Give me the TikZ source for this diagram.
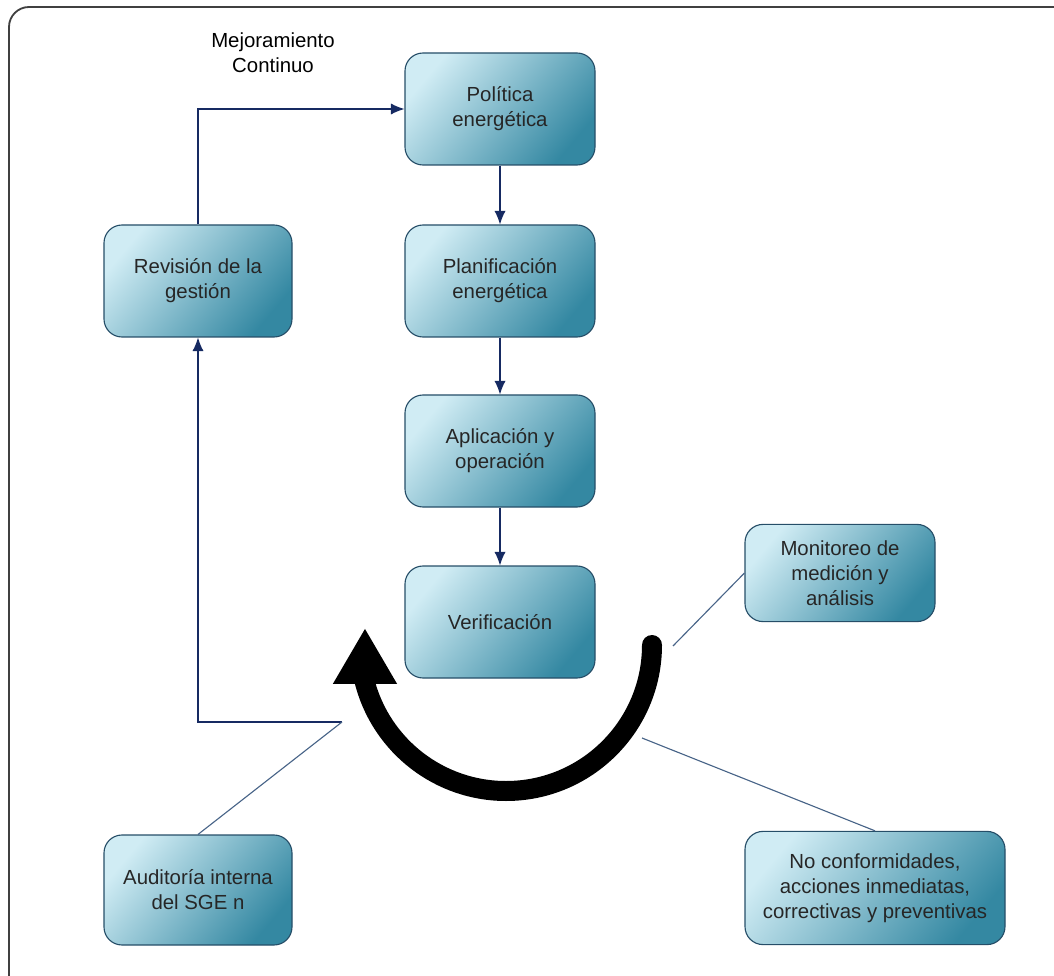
\documentclass[tikz,border=0pt]{standalone}
\usepackage{fontspec}
\setmainfont{Liberation Sans}
\usetikzlibrary{arrows.meta,positioning}
\definecolor{cajaclara}{RGB}{208,236,244}
\definecolor{cajaoscura}{RGB}{52,136,162}
\definecolor{borde}{RGB}{38,78,104}
\definecolor{flecha}{RGB}{22,42,98}
\definecolor{linea}{RGB}{72,100,136}
\tikzset{
	proceso/.style={draw=borde, thick, rounded corners=0.45cm, top color=cajaclara, bottom color=cajaoscura, shading angle=50, align=center, minimum width=4.75cm, minimum height=2.8cm, font=\fontsize{14.5}{17.8}\selectfont, text=black!85},
	paso/.style={draw=flecha, thick, -{Latex[length=3.4mm,width=2.8mm]}},
	guia/.style={draw=linea, thick}
}
\begin{document}
\begin{tikzpicture}
	\useasboundingbox (0,0) rectangle (26.35,-24.4);
	\draw[line width=1.3pt, black!75, rounded corners=0.5cm] (0.225,-0.175) rectangle (27,-25);

	\node[font=\fontsize{14.5}{17.8}\selectfont, align=center] (mejora) at (6.825,-1.325) {Mejoramiento\\Continuo};

	\node[proceso] (pol) at (12.5,-2.725) {Política\\energética};
	\node[proceso] (plan) at (12.5,-7.025) {Planificación\\energética};
	\node[proceso] (apl) at (12.5,-11.275) {Aplicación y\\operación};
	\node[proceso] (ver) at (12.5,-15.55) {Verificación};
	\node[proceso, minimum width=4.7cm] (rev) at (4.95,-7.025) {Revisión de la\\gestión};
	\node[proceso, minimum height=2.43cm] (mon) at (21,-14.325) {Monitoreo de\\medición y\\análisis};
	\node[proceso, minimum width=4.7cm, minimum height=2.75cm] (aud) at (4.95,-22.25) {Auditoría interna\\del SGE n};
	\node[proceso, minimum width=6.5cm, minimum height=2.83cm] (noc) at (21.875,-22.2) {No conformidades,\\acciones inmediatas,\\correctivas y preventivas};

	\coordinate (ajuste) at (8.55,-18.05);
	\coordinate (finmon) at (16.825,-16.15);
	\coordinate (finnoc) at (16.05,-18.45);

	\draw[paso] (rev.north) |- (pol.west);
	\draw[paso] (pol) -- (plan);
	\draw[paso] (plan) -- (apl);
	\draw[paso] (apl) -- (ver);
	\draw[paso] (ajuste) -| (rev.south);

	\draw[guia] (ajuste) -- (aud.north);
	\draw[guia] (mon.west) -- (finmon);
	\draw[guia] (noc.north) -- (finnoc);

	\draw[line width=0.5cm, line cap=round, -{Triangle[width=1.5cm,length=1.4cm]}] (16.3,-16.125) arc (0:-165:3.65) -- ++(0,1.37);
\end{tikzpicture}
\end{document}
